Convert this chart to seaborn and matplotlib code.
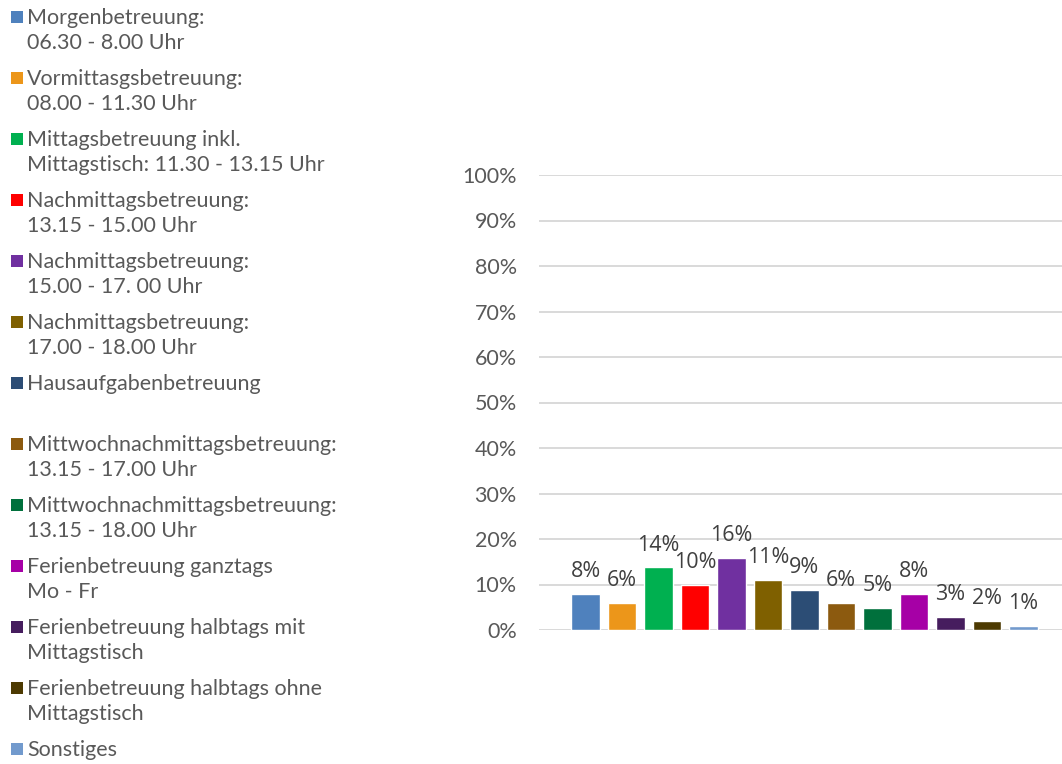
import matplotlib
matplotlib.use("Agg")
import matplotlib.pyplot as plt
import seaborn as sns
import pandas as pd
from matplotlib.patches import Rectangle

categories = [
    "Morgenbetreuung:\n06.30 - 8.00 Uhr",
    "Vormittasgsbetreuung:\n08.00 - 11.30 Uhr",
    "Mittagsbetreuung inkl.\nMittagstisch: 11.30 - 13.15 Uhr",
    "Nachmittagsbetreuung:\n13.15 - 15.00 Uhr",
    "Nachmittagsbetreuung:\n15.00 - 17. 00 Uhr",
    "Nachmittagsbetreuung:\n17.00 - 18.00 Uhr",
    "Hausaufgabenbetreuung",
    "Mittwochnachmittagsbetreuung:\n13.15 - 17.00 Uhr",
    "Mittwochnachmittagsbetreuung:\n13.15 - 18.00 Uhr",
    "Ferienbetreuung ganztags\nMo - Fr",
    "Ferienbetreuung halbtags mit\nMittagstisch",
    "Ferienbetreuung halbtags ohne\nMittagstisch",
    "Sonstiges",
]
values = [0.079, 0.059, 0.138, 0.099, 0.158, 0.110, 0.088, 0.059, 0.048, 0.079, 0.029, 0.020, 0.009]
colors = ["#4F81BD", "#EC961A", "#00B050", "#FF0000", "#7030A0", "#7F6000",
          "#2C4D75", "#8C5A0F", "#00703C", "#A600A6", "#461D5E", "#4D3A02", "#729ACD"]
yticks = [i / 10 for i in range(11)]

W, H = 1062, 764
sns.set_theme(style="white")
plt.rcParams["font.family"] = ["Lato", "DejaVu Sans"]

fig = plt.figure(figsize=(W / 100, H / 100), dpi=100)
ax = fig.add_axes([539 / W, 1 - 630 / H, (1062 - 539) / W, (630 - 175) / H])

df = pd.DataFrame({"cat": categories, "val": values})
sns.barplot(data=df, x="cat", y="val", hue="cat", order=categories, hue_order=categories,
            palette=colors, legend=False, width=0.79, saturation=1, ax=ax, zorder=3)

ax.set_ylim(0, 1)
ax.set_xlim(-1.274, 13.055)
ax.set_yticks(yticks)
ax.set_yticklabels([f"{int(round(t * 100))}%" for t in yticks], fontsize=15.5, color="#595959")
ax.tick_params(axis="y", length=0, pad=16)
ax.set_xticks([])
ax.set_xlabel("")
ax.set_ylabel("")
for s in ax.spines.values():
    s.set_visible(False)
ax.yaxis.grid(True, color="#D9D9D9", linewidth=1.4, zorder=0)
ax.set_axisbelow(True)

for i, v in enumerate(values):
    ax.annotate(f"{round(v * 100):.0f}%", xy=(i, v), xytext=(0, 12), textcoords="offset points",
                ha="center", va="baseline", fontsize=15.5, color="#404040",
                family=["Open Sans", "DejaVu Sans"])

# legend (manual, left column)
for i, (lab, col) in enumerate(zip(categories, colors)):
    base = 24 + 61 * i
    fig.add_artist(Rectangle((11 / W, 1 - (base - 1) / H), 12 / W, 12 / H,
                             transform=fig.transFigure, color=col, lw=0))
    for j, line in enumerate(lab.split("\n")):
        fig.text(27 / W, 1 - (base + 25 * j) / H, line, fontsize=15.5, color="#595959",
                 ha="left", va="baseline")

fig.savefig("out.png", dpi=100)
